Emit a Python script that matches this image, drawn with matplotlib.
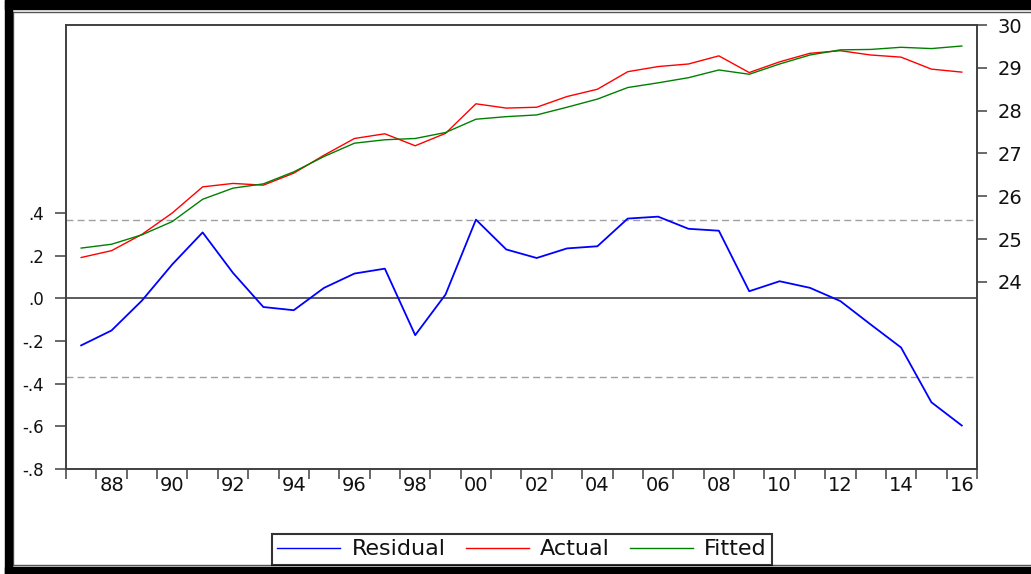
import numpy as np
import matplotlib
matplotlib.use("Agg")
import matplotlib.pyplot as plt
from matplotlib.patches import Rectangle
from matplotlib.lines import Line2D

# yearly data 1987-2016
years = np.arange(1987, 2017)
residual = [-0.22, -0.15, -0.01, 0.16, 0.31, 0.12, -0.04, -0.055, 0.05, 0.117,
            0.14, -0.172, 0.019, 0.37, 0.23, 0.19, 0.235, 0.245, 0.375, 0.384,
            0.327, 0.318, 0.034, 0.081, 0.05, -0.012, -0.122, -0.23, -0.487, -0.596]
actual = [24.57, 24.73, 25.11, 25.61, 26.22, 26.30, 26.26, 26.54, 26.96, 27.35,
          27.46, 27.18, 27.47, 28.16, 28.06, 28.08, 28.33, 28.50, 28.91, 29.03,
          29.09, 29.28, 28.89, 29.14, 29.34, 29.40, 29.30, 29.25, 28.97, 28.90]
fitted = [24.79, 24.88, 25.10, 25.41, 25.93, 26.19, 26.29, 26.57, 26.93, 27.24,
          27.32, 27.35, 27.49, 27.80, 27.86, 27.90, 28.08, 28.27, 28.54, 28.65,
          28.77, 28.95, 28.85, 29.09, 29.30, 29.42, 29.43, 29.48, 29.45, 29.51]
std_band = 0.37

left_ticks = [-0.8, -0.6, -0.4, -0.2, 0.0, 0.2, 0.4]
left_labels = ["-.8", "-.6", "-.4", "-.2", ".0", ".2", ".4"]
right_ticks = [24, 25, 26, 27, 28, 29, 30]
label_years = np.arange(1988, 2017, 2)

plt.rcParams['font.family'] = ['DejaVu Sans']

fig = plt.figure(figsize=(10.31, 5.74), dpi=100)
ax = fig.add_axes([0.064, 0.1829, 0.8836, 0.7735])
ax2 = ax.twinx()

spine_col = "#404040"

ax.axhline(0, color=spine_col, lw=1.2, zorder=1)
ax.axhline(std_band, color="#a0a0a0", lw=1.0, ls=(0, (5, 3)), zorder=1)
ax.axhline(-std_band, color="#a0a0a0", lw=1.0, ls=(0, (5, 3)), zorder=1)
ax.plot(years, residual, color="#0000ff", lw=1.3, zorder=3)

ax2.plot(years, actual, color="#ff0000", lw=1.0)
ax2.plot(years, fitted, color="#008000", lw=1.0)

ax.set_xlim(1986.5, 2016.5)
ax.set_ylim(-0.8, 1.283)
ax2.set_ylim(19.63, 30)

ax.set_yticks(left_ticks)
ax.set_yticklabels(left_labels, fontsize=12)
ax2.set_yticks(right_ticks)
ax2.set_yticklabels([str(t) for t in right_ticks], fontsize=14)

ax.set_xticks(np.arange(1986.5, 2017, 1))
ax.set_xticklabels([])
ax.set_xticks(label_years, minor=True)
ax.set_xticklabels(["%02d" % (y % 100) for y in label_years], minor=True, fontsize=14)
ax.tick_params(axis='x', which='major', length=7, width=1.1, color=spine_col, direction='out')
ax.tick_params(axis='x', which='minor', length=0, pad=5, labelcolor="#111111")
ax.tick_params(axis='y', length=8, width=1.1, color=spine_col, pad=8, labelcolor="#111111")
ax2.tick_params(axis='y', length=7, width=1.1, color=spine_col, pad=8, labelcolor="#111111")

for a in (ax, ax2):
    for s in a.spines.values():
        s.set_color(spine_col)
        s.set_linewidth(1.2)

handles = [Line2D([], [], color="#0000ff", lw=1.0),
           Line2D([], [], color="#ff0000", lw=1.0),
           Line2D([], [], color="#008000", lw=1.0)]
leg = fig.legend(handles, ["Residual", "Actual", "Fitted"], loc='lower center',
                 bbox_to_anchor=(0.5063, 0.0157), ncol=3, fontsize=16,
                 frameon=True, fancybox=False, shadow=False,
                 handlelength=2.85, handletextpad=0.5, columnspacing=0.9,
                 borderpad=0.25, borderaxespad=0)
leg.get_frame().set_edgecolor("black")
leg.get_frame().set_linewidth(1.5)
for t in leg.get_texts():
    t.set_color("#111111")

# outer frame of the picture
W, H = 1031.0, 574.0
fig.patches.append(Rectangle((5 / W, 0), 7 / W, 1, transform=fig.transFigure,
                             color="black", zorder=10))
fig.patches.append(Rectangle((5 / W, 1 - 9 / H), 1, 9 / H, transform=fig.transFigure,
                             color="black", zorder=10))
fig.patches.append(Rectangle((5 / W, 0), 1, 7 / H, transform=fig.transFigure,
                             color="black", zorder=10))
fig.lines.append(Line2D([13 / W, 1], [1 - 12 / H, 1 - 12 / H], transform=fig.transFigure,
                        color="#555555", lw=1.0))
fig.lines.append(Line2D([13 / W, 13 / W], [9 / H, 1 - 12 / H], transform=fig.transFigure,
                        color="#555555", lw=1.0))
fig.lines.append(Line2D([13 / W, 1], [9 / H, 9 / H], transform=fig.transFigure,
                        color="#555555", lw=1.0))

fig.savefig("out.png", dpi=100)
